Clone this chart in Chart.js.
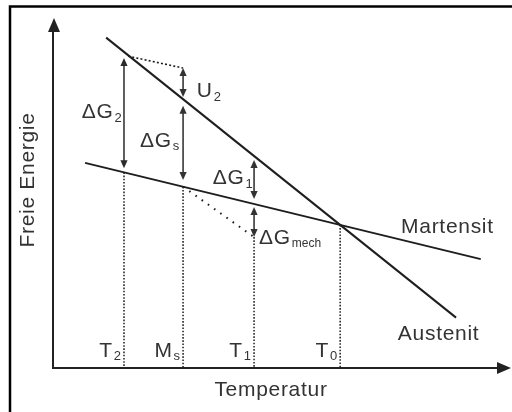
<!DOCTYPE html>
<html>
<head>
<meta charset="utf-8">
<script src="https://cdn.jsdelivr.net/npm/chart.js@4/dist/chart.umd.min.js"></script>
<style>
  html, body { margin: 0; padding: 0; background: #fff; }
  canvas { display: block; }
</style>
</head>
<body>
<canvas id="c" width="512" height="412"></canvas>
<script>
// free energy lines (endpoints)
const austenitX = [11.6, 88.0];
const austenitY = [94.4, 14.4];
const martensitX = [7.0, 93.4];
const martensitY = [58.6, 31.1];

// temperatures on the x axis
const tempNames = ['T', 'M', 'T', 'T'];
const tempSubs = ['2', 's', '1', '0'];
const tempValues = [15.5, 28.4, 43.9, 62.7];
const dropFrom = [55.9, 51.8, 37.4, 40.9];

// energy differences (double arrows)
const diffNames = ['ΔG', 'U', 'ΔG', 'ΔG', 'ΔG'];
const diffSubs = ['2', '2', 's', '1', 'mech'];
const diffX = [15.5, 28.4, 28.4, 43.9, 43.9];
const diffTop = [88.6, 85.7, 74.9, 59.4, 46.0];
const diffBottom = [57.1, 77.4, 53.7, 48.3, 37.4];

// dotted helper lines
const u2GuideX = [16.4, 28.4];
const u2GuideY = [89.1, 85.7];
const mechGuideX = [28.4, 43.9];
const mechGuideY = [51.8, 37.4];

const pts = (xs, ys) => xs.map((x, i) => ({ x: x, y: ys[i] }));

const ink = '#1e1e1e';
const txt = '#333';
const font = '"Liberation Sans", Arial, sans-serif';

const datasets = [
  { data: pts(austenitX, austenitY), borderColor: ink, borderWidth: 2 },
  { data: pts(martensitX, martensitY), borderColor: ink, borderWidth: 2 },
  { data: pts(u2GuideX, u2GuideY), borderColor: ink, borderWidth: 1.6, borderDash: [2, 2.2] },
  { data: pts(mechGuideX, mechGuideY), borderColor: ink, borderWidth: 2, borderDash: [1.6, 6] }
];
tempValues.forEach((t, i) => {
  datasets.push({
    data: [{ x: t, y: dropFrom[i] }, { x: t, y: 0 }],
    borderColor: ink, borderWidth: 1.5, borderDash: [1.6, 1.6]
  });
});
datasets.forEach(d => { d.showLine = true; d.pointRadius = 0; d.fill = false; });

// where the text sits (data units of the chart)
const diffLabelPos = [[6.3, 73.1], [31.4, 79.1], [19.0, 64.9], [34.9, 54.3], [45.0, 37.1]];
const curveLabels = [['Martensit', 76.0, 40.3], ['Austenit', 75.3, 9.7]];

function label(ctx, x, y, main, sub, align) {
  ctx.letterSpacing = '0.7px';
  ctx.font = '21px ' + font;
  const w1 = ctx.measureText(main).width;
  ctx.letterSpacing = '0px';
  ctx.font = (sub.length > 1 ? '12px ' : '13px ') + font;
  const w2 = ctx.measureText(sub).width;
  let left = x;
  if (align === 'right') left = x - w1 - w2 - 1;
  ctx.fillStyle = txt;
  ctx.textAlign = 'left';
  ctx.textBaseline = 'middle';
  ctx.letterSpacing = '0.7px';
  ctx.font = '21px ' + font;
  ctx.fillText(main, left, y);
  ctx.letterSpacing = '0px';
  ctx.font = (sub.length > 1 ? '12px ' : '13px ') + font;
  ctx.fillText(sub, left + w1 + 1, y + 6);
}

function head(ctx, x, y, dir, len, half) {
  ctx.beginPath();
  ctx.moveTo(x, y);
  ctx.lineTo(x - half, y + dir * len);
  ctx.lineTo(x + half, y + dir * len);
  ctx.closePath();
  ctx.fill();
}

const sketch = {
  id: 'sketch',
  beforeDraw(chart) {
    const ctx = chart.ctx;
    ctx.save();
    ctx.fillStyle = '#fff';
    ctx.fillRect(0, 0, chart.width, chart.height);
    ctx.strokeStyle = '#000';
    ctx.lineWidth = 2.5;
    ctx.strokeRect(10, 6.5, 520, 420);
    ctx.restore();
  },
  afterDatasetsDraw(chart) {
    const ctx = chart.ctx;
    const xs = chart.scales.x, ys = chart.scales.y;
    const a = chart.chartArea;
    ctx.save();
    // axes with arrow heads
    ctx.strokeStyle = '#222';
    ctx.fillStyle = '#222';
    ctx.lineWidth = 2;
    ctx.beginPath();
    ctx.moveTo(a.left, a.top + 10);
    ctx.lineTo(a.left, a.bottom);
    ctx.lineTo(a.right - 10, a.bottom);
    ctx.stroke();
    head(ctx, a.left + 1, a.top, 1, 14, 6);
    ctx.beginPath();
    ctx.moveTo(a.right, a.bottom);
    ctx.lineTo(a.right - 14, a.bottom - 6);
    ctx.lineTo(a.right - 14, a.bottom + 6);
    ctx.closePath();
    ctx.fill();

    // double arrows
    ctx.strokeStyle = '#2a2a2a';
    ctx.fillStyle = '#2a2a2a';
    ctx.lineWidth = 1.5;
    diffX.forEach((v, i) => {
      const px = xs.getPixelForValue(v);
      const top = ys.getPixelForValue(diffTop[i]);
      const bot = ys.getPixelForValue(diffBottom[i]);
      ctx.beginPath();
      ctx.moveTo(px, top + 4);
      ctx.lineTo(px, bot - 4);
      ctx.stroke();
      head(ctx, px, top, 1, 8, 3.6);
      head(ctx, px, bot, -1, 8, 3.6);
      const p = diffLabelPos[i];
      label(ctx, xs.getPixelForValue(p[0]), ys.getPixelForValue(p[1]), diffNames[i], diffSubs[i], 'left');
    });

    // temperature marks
    tempValues.forEach((t, i) => {
      label(ctx, xs.getPixelForValue(t) - 3, ys.getPixelForValue(4.9), tempNames[i], tempSubs[i], 'right');
    });

    // curve names
    ctx.letterSpacing = '0.7px';
    ctx.font = '21px ' + font;
    ctx.fillStyle = txt;
    ctx.textAlign = 'left';
    ctx.textBaseline = 'middle';
    curveLabels.forEach(c => ctx.fillText(c[0], xs.getPixelForValue(c[1]), ys.getPixelForValue(c[2])));

    // axis titles
    ctx.textAlign = 'center';
    ctx.fillText('Temperatur', 271, 390);
    ctx.translate(28, 180);
    ctx.rotate(-Math.PI / 2);
    ctx.fillText('Freie Energie', 0, 0);
    ctx.restore();
  }
};

new Chart(document.getElementById('c'), {
  type: 'scatter',
  data: { datasets: datasets },
  options: {
    responsive: false,
    animation: false,
    layout: { padding: { left: 53, right: 1, top: 18, bottom: 44 } },
    plugins: { legend: { display: false }, tooltip: { enabled: false } },
    scales: {
      x: { type: 'linear', min: 0, max: 100, display: false },
      y: { type: 'linear', min: 0, max: 100, display: false }
    }
  },
  plugins: [sketch]
});
</script>
</body>
</html>
